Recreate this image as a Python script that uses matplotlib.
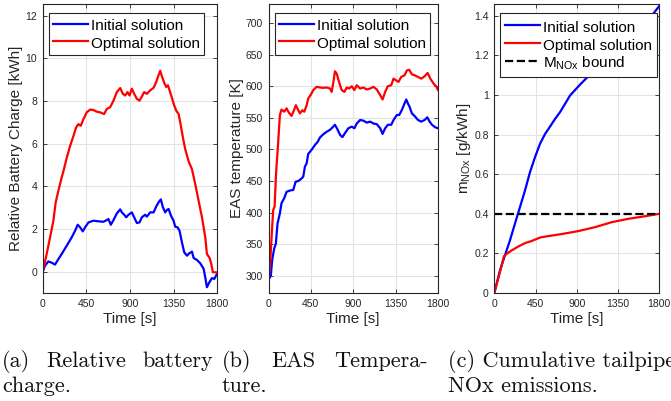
import matplotlib
matplotlib.use("Agg")
import matplotlib.pyplot as plt

plt.rcParams["font.family"] = ["Liberation Sans", "DejaVu Sans"]
plt.rcParams["mathtext.fontset"] = "custom"
plt.rcParams["mathtext.rm"] = "Liberation Sans"
plt.rcParams["mathtext.it"] = "Liberation Sans:italic"
plt.rcParams["mathtext.default"] = "regular"

# ---------------- data ----------------
time_ticks = [0, 450, 900, 1350, 1800]

# (a) relative battery charge [kWh]
bat_init_t = [0, 24, 58, 93, 127, 162, 196, 248, 299, 334, 361, 386, 413, 437, 472, 523, 575,
              626, 661, 678, 702, 730, 764, 799, 816, 840, 861, 885, 919, 943, 971, 998, 1022,
              1057, 1074, 1108, 1143, 1170, 1194, 1218, 1239, 1263, 1280, 1298, 1322, 1349,
              1366, 1390, 1411, 1435, 1459, 1487, 1511, 1539, 1556, 1590, 1625, 1659, 1676,
              1693, 1718, 1745, 1769, 1800]
bat_init_v = [0, 0.28, 0.48, 0.42, 0.33, 0.59, 0.83, 1.22, 1.61, 1.92, 2.2, 2.08, 1.89, 2.08,
              2.31, 2.39, 2.36, 2.34, 2.42, 2.47, 2.2, 2.42, 2.73, 2.92, 2.78, 2.67, 2.55, 2.67,
              2.78, 2.55, 2.28, 2.31, 2.55, 2.67, 2.58, 2.78, 2.78, 3.05, 3.25, 3.39, 3.02, 2.78,
              2.89, 2.94, 2.63, 2.39, 2.11, 2.08, 1.92, 1.38, 0.91, 0.75, 0.86, 0.94, 0.64, 0.55,
              0.39, 0.13, -0.27, -0.73, -0.5, -0.3, -0.34, -0.08]
bat_opt_t = [0, 41, 76, 110, 134, 162, 196, 213, 248, 282, 317, 344, 368, 392, 420, 454, 489,
             523, 558, 592, 633, 661, 695, 730, 764, 799, 826, 850, 874, 895, 919, 943, 971, 998,
             1022, 1046, 1074, 1108, 1143, 1170, 1194, 1212, 1229, 1253, 1274, 1291, 1308, 1332,
             1356, 1377, 1401, 1418, 1446, 1470, 1504, 1539, 1573, 1607, 1642, 1676, 1693, 1721,
             1738, 1755, 1779, 1800]
bat_opt_v = [0, 0.83, 1.61, 2.39, 3.25, 3.8, 4.42, 4.7, 5.34, 5.89, 6.36, 6.76, 6.92, 6.84,
             7.15, 7.47, 7.6, 7.58, 7.5, 7.47, 7.39, 7.63, 7.71, 8.02, 8.42, 8.61, 8.34, 8.26,
             8.42, 8.26, 8.58, 8.34, 8.1, 8.02, 8.21, 8.42, 8.34, 8.5, 8.62, 8.89, 9.21, 9.42,
             9.16, 8.85, 8.66, 8.74, 8.5, 8.15, 7.79, 7.55, 7.39, 7.0, 6.28, 5.73, 5.18, 4.8,
             4.1, 3.33, 2.55, 1.61, 0.83, 0.64, 0.36, -0.03, -0.03, -0.03]

# (b) EAS temperature [K]
eas_init_t = [0, 25, 39, 60, 78, 96, 121, 138, 167, 192, 227, 263, 288, 316, 351, 369, 387,
              405, 422, 458, 493, 522, 547, 582, 618, 653, 671, 706, 735, 760, 785, 813, 848,
              884, 912, 937, 973, 1008, 1044, 1079, 1115, 1150, 1186, 1211, 1239, 1267, 1303,
              1328, 1363, 1388, 1416, 1445, 1463, 1480, 1498, 1523, 1551, 1587, 1622, 1658,
              1686, 1711, 1736, 1771, 1800]
eas_init_v = [293.5, 301, 325, 343, 351, 383, 399, 415, 423, 433, 435, 436, 449, 450, 454, 457,
              473, 478, 493, 499.5, 507, 512, 519, 524, 528, 531, 533.5, 539, 531, 523, 519.5,
              526, 533.5, 536, 533.5, 541, 546.6, 545.5, 542.4, 544, 541, 540, 533.5, 524.6,
              533.5, 539, 539, 546.6, 554.5, 554.5, 562.3, 572.8, 579, 572.8, 567.5, 557, 553,
              546.6, 544, 546.6, 550.8, 544, 539, 535, 533.5]
eas_opt_t = [0, 18, 39, 50, 65, 80, 100, 121, 138, 167, 192, 217, 245, 273, 291, 316, 334, 359,
             380, 405, 422, 447, 476, 511, 547, 582, 618, 653, 671, 689, 706, 724, 749, 777,
             806, 831, 856, 884, 912, 937, 973, 1008, 1044, 1079, 1115, 1150, 1186, 1211, 1239,
             1267, 1303, 1328, 1353, 1381, 1409, 1445, 1470, 1494, 1523, 1551, 1587, 1622,
             1658, 1690, 1718, 1754, 1779, 1800]
eas_opt_v = [293.5, 320, 378, 404, 410, 462, 505, 554.5, 563, 559.7, 565, 558, 553, 563, 570,
             562, 557, 562, 559.7, 570, 580.6, 586, 594, 599, 598, 597.4, 598, 596.3, 591,
             606.8, 623.6, 620, 606.8, 594, 591, 598, 596.3, 600, 594, 601.6, 596.3, 598,
             594.8, 596.3, 599, 594.8, 586, 579, 591, 600, 601.6, 612, 609.4, 606.8, 614.7,
             617.3, 625, 626, 618.8, 617.3, 614.7, 612, 615.7, 621, 612, 604, 600, 594]

# (c) cumulative tailpipe NOx [g/kWh]
nox_init_t = [0, 62, 116, 171, 225, 280, 335, 389, 444, 498, 553, 607, 662, 716, 771, 825,
              880, 934, 1100, 1300, 1500, 1716, 1800]
nox_init_v = [0, 0.114, 0.19, 0.266, 0.35, 0.434, 0.518, 0.61, 0.686, 0.753, 0.803, 0.84,
              0.879, 0.913, 0.955, 0.997, 1.025, 1.052, 1.13, 1.22, 1.30, 1.40, 1.45]
nox_opt_t = [0, 62, 105, 135, 189, 262, 335, 409, 498, 555, 737, 919, 1101, 1283, 1465, 1647, 1800]
nox_opt_v = [0, 0.106, 0.185, 0.198, 0.215, 0.235, 0.252, 0.263, 0.28, 0.285, 0.298, 0.313,
             0.333, 0.358, 0.375, 0.388, 0.4]
nox_bound = 0.4

# caption lines: (first-line words, left px, right px or None, second line)
captions = [
    (["(a)", "Relative", "battery"], 2.0, 213.0, "charge."),
    (["(b)", "EAS", "Tempera-"], 222.0, 428.0, "ture."),
    (["(c) Cumulative tailpipe"], 448.3, None, "NOx emissions."),
]

# ---------------- figure ----------------
W, H = 671, 401
fig = plt.figure(figsize=(W / 100, H / 100), dpi=100)

def px_axes(l, r, t, b):
    return fig.add_axes([l / W, 1 - b / H, (r - l) / W, (b - t) / H])

axes_dark = "#262626"
blue, red = (0, 0, 1), (1, 0, 0)

def style(ax):
    ax.set_xlim(0, 1800)
    ax.set_xticks(time_ticks)
    ax.grid(True, color="#e3e3e3", linewidth=0.8)
    ax.set_axisbelow(True)
    for s in ax.spines.values():
        s.set_color(axes_dark)
        s.set_linewidth(0.8)
    ax.tick_params(direction="in", length=3, width=0.6, colors=axes_dark,
                   labelsize=7.5, top=True, right=True, pad=4)
    ax.set_xlabel("Time [s]", fontsize=11, color=axes_dark, labelpad=2.5)

def legend(ax, x0, hh=1.2, bp=0.2):
    leg = ax.legend(loc="upper left", bbox_to_anchor=(x0, 0.968), fontsize=11,
                    borderaxespad=0, handlelength=2.3, handletextpad=0.2,
                    handleheight=hh, borderpad=bp, labelspacing=0.1,
                    fancybox=False, framealpha=1)
    leg.get_frame().set_edgecolor(axes_dark)
    leg.get_frame().set_linewidth(0.8)
    return leg

# (a)
ax1 = px_axes(42.7, 217.3, 4, 293)
ax1.plot(bat_init_t, bat_init_v, color=blue, lw=1.6, label="Initial solution")
ax1.plot(bat_opt_t, bat_opt_v, color=red, lw=1.6, label="Optimal solution")
ax1.set_ylim(-1, 12.55)
ax1.set_yticks([0, 2, 4, 6, 8, 10, 12])
style(ax1)
ax1.set_ylabel("Relative Battery Charge [kWh]", fontsize=11, color=axes_dark, labelpad=2)
legend(ax1, 0.038, hh=1.25, bp=0.25)

# (b)
ax2 = px_axes(268.5, 438.0, 4, 293)
ax2.plot(eas_init_t, eas_init_v, color=blue, lw=1.6, label="Initial solution")
ax2.plot(eas_opt_t, eas_opt_v, color=red, lw=1.6, label="Optimal solution")
ax2.set_ylim(273, 730)
ax2.set_yticks([300, 350, 400, 450, 500, 550, 600, 650, 700])
style(ax2)
ax2.set_ylabel("EAS temperature [K]", fontsize=11, color=axes_dark, labelpad=1)
legend(ax2, 0.038, hh=1.25, bp=0.25)

# (c)
ax3 = px_axes(494.3, 659.3, 4, 293)
ax3.plot(nox_init_t, nox_init_v, color=blue, lw=1.6, label="Initial solution")
ax3.plot(nox_opt_t, nox_opt_v, color=red, lw=1.6, label="Optimal solution")
ax3.axhline(nox_bound, color="black", lw=1.6, ls="--", label=r"$\mathregular{M_{NOx}}$ bound")
ax3.set_ylim(0, 1.46)
ax3.set_yticks([0, 0.2, 0.4, 0.6, 0.8, 1.0, 1.2, 1.4])
ax3.set_yticklabels(["0", "0.2", "0.4", "0.6", "0.8", "1", "1.2", "1.4"])
style(ax3)
ax3.set_ylabel(r"$\mathregular{m_{NOx}}$ [g/kWh]", fontsize=11, color=axes_dark, labelpad=1)
legend(ax3, 0.035, hh=1.3, bp=0.32)

# captions below the panels, first lines justified between left/right edges
cap_font = dict(family="cmr10", fontsize=16, color="#111111", va="baseline", ha="left")
renderer = fig.canvas.get_renderer()
for words, left, right, line2 in captions:
    texts = [fig.text(0, 1 - 367 / H, w, **cap_font) for w in words]
    widths = [t.get_window_extent(renderer).width for t in texts]
    if right is None or len(words) == 1:
        gap = 0
    else:
        gap = (right - left - sum(widths)) / (len(words) - 1)
    x = left
    for t, w in zip(texts, widths):
        t.set_x(x / W)
        x += w + gap
    fig.text(left / W, 1 - 392 / H, line2, **cap_font)

fig.savefig("out.png", dpi=100, facecolor="white")
